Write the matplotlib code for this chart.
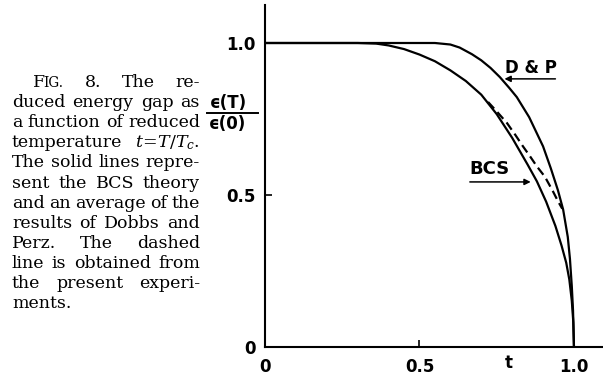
import matplotlib
matplotlib.use("Agg")
import matplotlib.pyplot as plt
from matplotlib.transforms import IdentityTransform
from matplotlib.lines import Line2D

# ---------------- data ----------------
t_bcs = [0.0, 0.30, 0.36, 0.40, 0.45, 0.50, 0.55, 0.60, 0.65, 0.70, 0.75,
         0.80, 0.85, 0.88, 0.91, 0.94, 0.96, 0.975, 0.985, 0.993, 0.998, 1.0]
gap_bcs = [1.0, 1.0, 0.998, 0.992, 0.98, 0.962, 0.94, 0.91, 0.875, 0.83, 0.766,
           0.688, 0.60, 0.545, 0.478, 0.398, 0.333, 0.277, 0.222, 0.152, 0.08, 0.0]

t_dp = [0.0, 0.55, 0.60, 0.63, 0.67, 0.70, 0.73, 0.76, 0.79, 0.815, 0.855,
        0.90, 0.925, 0.948, 0.965, 0.98, 0.987, 0.993, 0.997, 1.0]
gap_dp = [1.0, 1.0, 0.995, 0.985, 0.963, 0.943, 0.918, 0.888, 0.853, 0.822, 0.756,
          0.66, 0.588, 0.516, 0.452, 0.362, 0.29, 0.2, 0.12, 0.0]

t_dashed = [0.722, 0.75, 0.783, 0.81, 0.835, 0.86, 0.88, 0.906, 0.932, 0.948, 0.962]
gap_dashed = [0.806, 0.775, 0.737, 0.698, 0.66, 0.624, 0.594, 0.56, 0.512, 0.48, 0.455]

xtick_values = [0, 0.5, 1.0]
xtick_labels = ["0", "0.5", "1.0"]
ytick_values = [0, 0.5, 1.0]
ytick_labels = ["0", "0.5", "1.0"]

caption_lines = [
    [[("F", 1.0), ("IG.", 0.78)], [("8.", 1.0)], [("The", 1.0)], [("re-", 1.0)]],
    "duced energy gap as",
    "a function of reduced",
    "temperature $t\\!=\\!T/T_c$.",
    "The solid lines repre-",
    "sent the BCS theory",
    "and an average of the",
    "results of Dobbs and",
    "Perz. The dashed",
    "line is obtained from",
    "the present experi-",
    "ments.",
]

# ---------------- figure ----------------
plt.rcParams["mathtext.fontset"] = "dejavuserif"
W, H = 603, 379
fig = plt.figure(figsize=(W / 100, H / 100), dpi=100)
fig.patch.set_facecolor("white")

ax = fig.add_axes([265 / W, 32 / H, 338 / W, 342 / H])
ax.set_xlim(0, 1.094)
ax.set_ylim(0, 1.125)
for s in ["top", "right"]:
    ax.spines[s].set_visible(False)
for s in ["left", "bottom"]:
    ax.spines[s].set_linewidth(1.5)
    ax.spines[s].set_color("black")

SANS = "DejaVu Sans"
ax.set_xticks(xtick_values)
ax.set_xticklabels(xtick_labels, fontsize=12, fontweight="bold", family=SANS)
ax.set_yticks(ytick_values)
ax.set_yticklabels(ytick_labels, fontsize=12, fontweight="bold", family=SANS)
ax.tick_params(axis="x", direction="in", length=5, width=1.2, pad=8)
ax.tick_params(axis="y", direction="in", length=5, width=1.2, pad=6.5)

ax.plot(t_bcs, gap_bcs, color="black", lw=1.6, solid_capstyle="round",
        solid_joinstyle="round")
ax.plot(t_dp, gap_dp, color="black", lw=1.6, solid_capstyle="round",
        solid_joinstyle="round")
ax.plot(t_dashed, gap_dashed, color="black", lw=1.6, linestyle=(0, (4, 2.2)))

# labels with arrows
ax.text(0.777, 0.918, "D & P", fontsize=12, fontweight="bold", family=SANS,
        ha="left", va="center")
ax.annotate("", xy=(0.775, 0.882), xytext=(0.94, 0.882),
            arrowprops=dict(arrowstyle="-|>", lw=1.1, color="black",
                            mutation_scale=9, shrinkA=0, shrinkB=0))
ax.text(0.663, 0.585, "BCS", fontsize=13, fontweight="bold", family=SANS,
        ha="left", va="center")
ax.annotate("", xy=(0.86, 0.543), xytext=(0.663, 0.543),
            arrowprops=dict(arrowstyle="-|>", lw=1.1, color="black",
                            mutation_scale=9, shrinkA=0, shrinkB=0))
ax.text(0.79, -0.052, "t", fontsize=12, fontweight="bold", family=SANS,
        ha="center", va="center", transform=ax.transData)

# y-axis label as a fraction
fig.text(228 / W, 1 - 103 / H, "ϵ(T)", fontsize=12, fontweight="bold",
         family=SANS, ha="center", va="center")
fig.text(228 / W, 1 - 124 / H, "ϵ(0)", fontsize=12, fontweight="bold",
         family=SANS, ha="center", va="center")
fig.add_artist(Line2D([207 / W, 258 / W], [1 - 113 / H, 1 - 113 / H],
                      color="black", lw=1.4, transform=fig.transFigure))

# ---------------- caption (justified text) ----------------
SERIF = "DejaVu Serif"
CAP_SIZE = 12.5
renderer = fig.canvas.get_renderer()


def make_word(word):
    if isinstance(word, str):
        return [(word, CAP_SIZE)]
    return [(p, s * CAP_SIZE) for p, s in word]


def place_line(words, x0, x1, ybase, justify=True):
    items = []
    total = 0
    for w in words:
        pieces = []
        wwidth = 0
        for j, (txt, sz) in enumerate(make_word(w)):
            t = fig.text(0, ybase, txt, fontsize=sz, family=SERIF,
                         ha="left", va="baseline", transform=IdentityTransform())
            bb = t.get_window_extent(renderer)
            wdt = bb.width - (1.5 if j == 0 and len(make_word(w)) > 1 else 0)
            pieces.append((t, wdt))
            wwidth += wdt
        items.append((pieces, wwidth))
        total += wwidth
    n = len(items)
    if justify and n > 1:
        gap = max((x1 - x0 - total) / (n - 1), 2.5)
    else:
        gap = 4.5
    x = x0
    for pieces, wwidth in items:
        px = x
        for t, wdt in pieces:
            t.set_x(px)
            px += wdt
        x += wwidth + gap


for i, line in enumerate(caption_lines):
    ybase = H - (87 + i * 20.1)
    if i == 0:
        place_line(line, 33, 200, ybase)
    else:
        words = line.split(" ")
        place_line(words, 12, 200, ybase, justify=(i != len(caption_lines) - 1))

fig.savefig("out.png", dpi=100, facecolor="white")
